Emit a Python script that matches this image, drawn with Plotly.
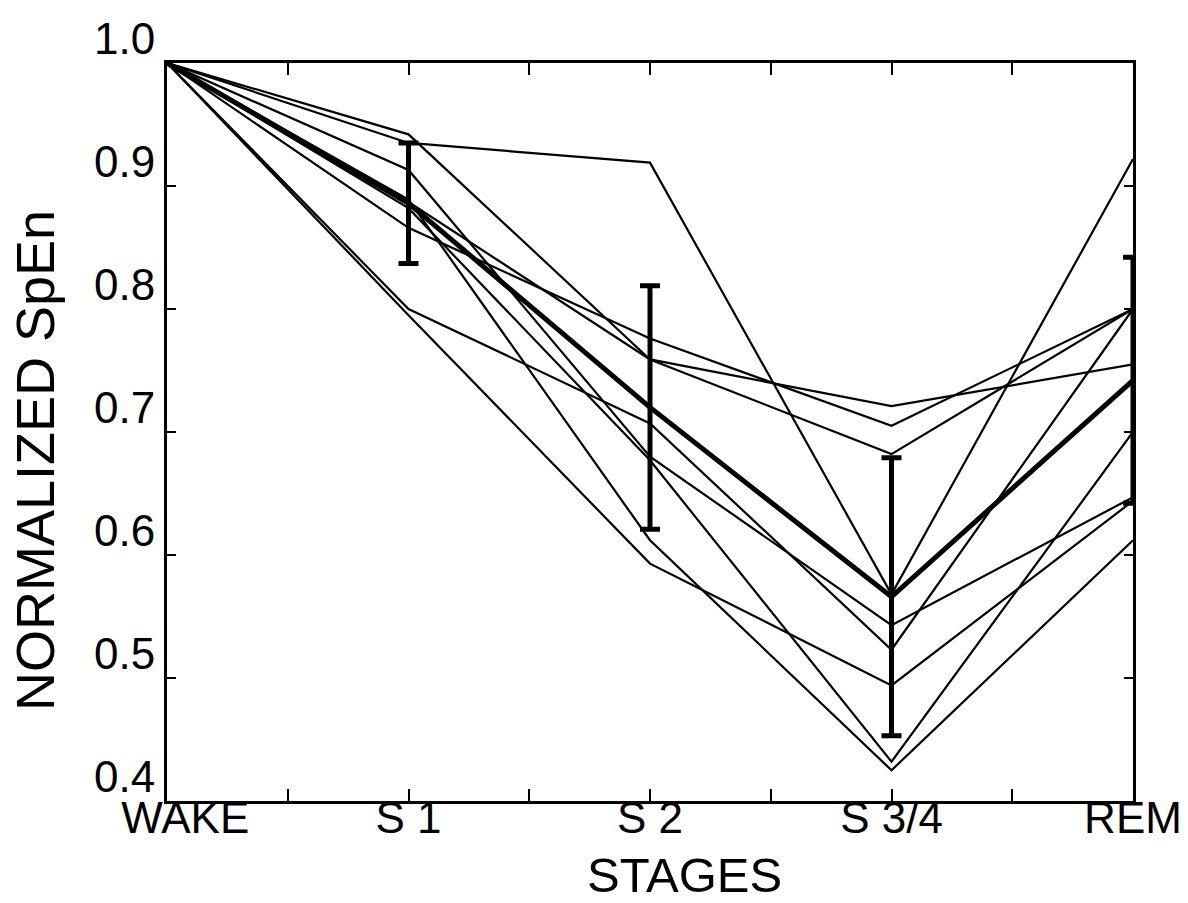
import plotly.graph_objects as go

stages = ["WAKE", "S 1", "S 2", "S 3/4", "REM"]
stage_labels = ["\u00a0\u00a0\u00a0WAKE", "S 1", "S 2", "S 3/4", "REM"]

subjects = {
    "A": [1.0, 0.935, 0.919, 0.568, 0.922],
    "B": [1.0, 0.942, 0.759, 0.721, 0.755],
    "C": [1.0, 0.866, 0.776, 0.705, 0.800],
    "D": [1.0, 0.887, 0.759, 0.682, 0.800],
    "E": [1.0, 0.800, 0.707, 0.523, 0.800],
    "F": [1.0, 0.795, 0.593, 0.494, 0.644],
    "G": [1.0, 0.889, 0.612, 0.425, 0.612],
    "H": [1.0, 0.913, 0.680, 0.543, 0.647],
    "I": [1.0, 0.882, 0.677, 0.432, 0.700],
}

mean_values = [1.0, 0.886, 0.720, 0.566, 0.742]
sd_values = [0.0, 0.049, 0.099, 0.113, 0.100]

ytick_vals = [0.4, 0.5, 0.6, 0.7, 0.8, 0.9, 1.0]
ytick_text = ["0.4", "0.5", "0.6", "0.7", "0.8", "0.9", "1.0"]

x_idx = list(range(len(stages)))
FONT = "Liberation Sans, Arial, sans-serif"

fig = go.Figure()
for name, vals in subjects.items():
    fig.add_trace(go.Scatter(x=x_idx, y=vals, mode="lines",
                             line=dict(color="black", width=2.2),
                             showlegend=False, name=name))

err_x = x_idx[1:]
fig.add_trace(go.Scatter(x=err_x, y=mean_values[1:], mode="lines",
                         line=dict(color="rgba(0,0,0,0)", width=0),
                         error_y=dict(type="data", array=sd_values[1:], visible=True,
                                      color="black", thickness=5, width=10),
                         showlegend=False, cliponaxis=False))
fig.add_trace(go.Scatter(x=x_idx, y=mean_values, mode="lines",
                         line=dict(color="black", width=5),
                         showlegend=False, name="mean"))

fig.update_layout(
    width=1188, height=903,
    margin=dict(l=167, r=55, t=63, b=102, autoexpand=False),
    paper_bgcolor="white", plot_bgcolor="white",
    font=dict(family=FONT, color="black", size=44),
    xaxis=dict(range=[0, 4], tickvals=x_idx, ticktext=stage_labels,
               ticks="inside", ticklen=12, tickwidth=2, tickcolor="black",
               showline=True, linewidth=3, linecolor="black", mirror="allticks",
               showgrid=False, zeroline=False, automargin=False,
               tickfont=dict(size=44, family=FONT),
               ticklabelstandoff=-24,
               minor=dict(tickvals=[0.5, 1.5, 2.5, 3.5], ticks="inside",
                          ticklen=12, tickwidth=2, tickcolor="black", showgrid=False)),
    yaxis=dict(range=[0.4, 1.0], tickvals=ytick_vals, ticktext=ytick_text,
               ticks="inside", ticklen=9, tickwidth=2, tickcolor="black",
               showline=True, linewidth=3, linecolor="black", mirror="allticks",
               showgrid=False, zeroline=False, automargin=False,
               tickfont=dict(size=44, family=FONT),
               ticklabelshift=-24),
    annotations=[
        dict(text="STAGES", xref="paper", yref="paper", x=0.536, y=-0.1,
             xanchor="center", yanchor="middle", showarrow=False,
             font=dict(size=49, family=FONT)),
        dict(text="NORMALIZED SpEn", xref="paper", yref="paper", x=-0.1366, y=0.4607,
             xanchor="center", yanchor="middle", showarrow=False, textangle=-90,
             font=dict(size=54, family=FONT)),
    ],
)

fig.write_html("out.html")
